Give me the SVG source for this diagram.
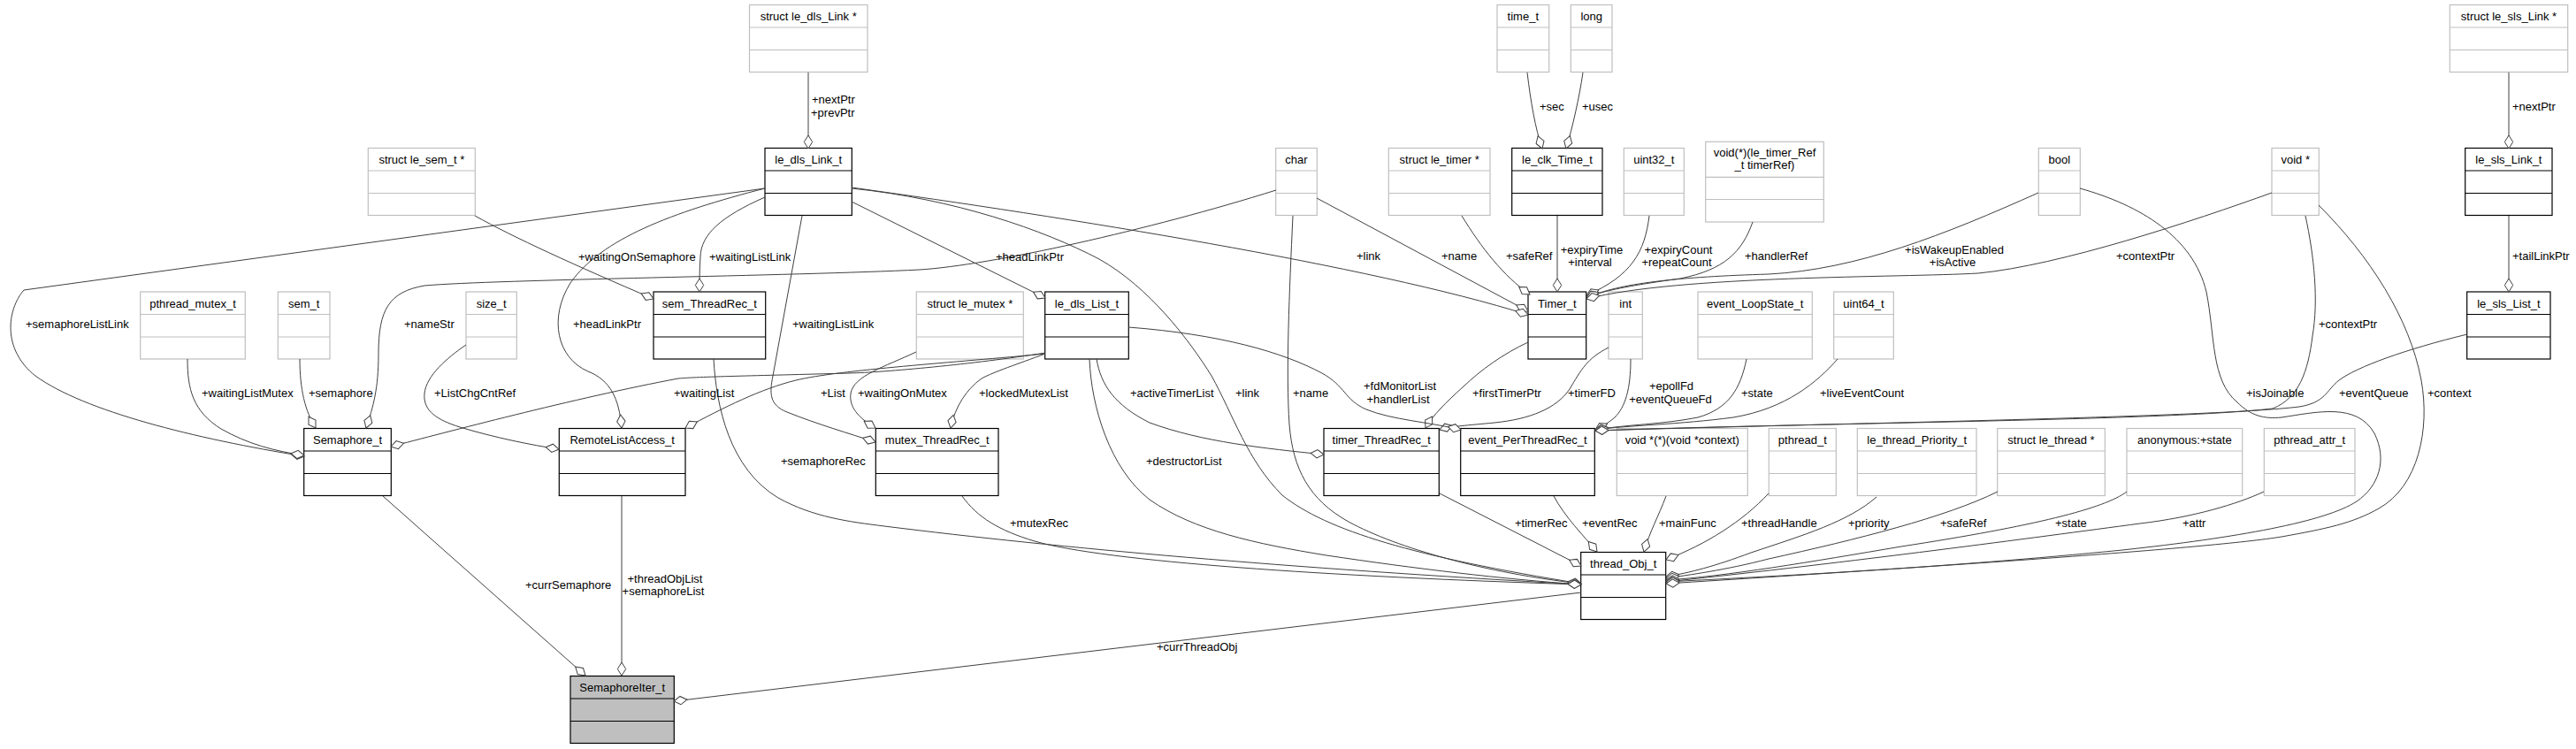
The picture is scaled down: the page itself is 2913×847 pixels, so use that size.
<svg xmlns="http://www.w3.org/2000/svg" width="2913" height="847" viewBox="0 0 2913 847">
<defs>
<style>
text{font-family:"Liberation Sans",Arial,sans-serif;font-size:13px;fill:#000}
.nd text{text-anchor:middle}
.nd rect{fill:#fff;stroke:#000;stroke-width:1.2}
.nd path{fill:none;stroke:#000;stroke-width:1.2}
.gr rect,.gr path{stroke:#bfbfbf}
.sel rect{fill:#bfbfbf}
#edges path{fill:none;stroke:#404040;stroke-width:1;marker-end:url(#dia)}
.m{text-anchor:middle}
</style>
<marker id="dia" markerUnits="userSpaceOnUse" markerWidth="18" markerHeight="12" viewBox="-1 -6 17 12" refX="15" refY="0" orient="auto">
<path d="M0,0 L7.5,-4.7 L15,0 L7.5,4.7 Z" fill="#fff" stroke="#404040" stroke-width="1"/>
</marker>
</defs>
<rect width="2913" height="847" fill="#fff"/>

<!-- Row 1 -->
<g id="n_struct_le_dls_Link" class="nd gr"><rect x="847.5" y="5.5" width="133.5" height="76"/><path d="M847.5,31H981M847.5,56.5H981"/><text x="914.2" y="23">struct le_dls_Link *</text></g>
<g id="n_time_t" class="nd gr"><rect x="1693" y="5.5" width="58.7" height="76"/><path d="M1693,31H1751.7M1693,56.5H1751.7"/><text x="1722.3" y="23">time_t</text></g>
<g id="n_long" class="nd gr"><rect x="1776.3" y="5.5" width="46.7" height="76"/><path d="M1776.3,31H1823M1776.3,56.5H1823"/><text x="1799.7" y="23">long</text></g>
<g id="n_struct_le_sls_Link" class="nd gr"><rect x="2770.3" y="5.5" width="133.4" height="76"/><path d="M2770.3,31H2903.7M2770.3,56.5H2903.7"/><text x="2837" y="23">struct le_sls_Link *</text></g>

<!-- Row 2 -->
<g id="n_struct_le_sem_t" class="nd gr"><rect x="416.3" y="167.5" width="121" height="76"/><path d="M416.3,193H537.3M416.3,218.5H537.3"/><text x="476.8" y="185">struct le_sem_t *</text></g>
<g id="n_le_dls_Link_t" class="nd"><rect x="865" y="167.5" width="98.3" height="76"/><path d="M865,193H963.3M865,218.5H963.3"/><text x="914.2" y="185">le_dls_Link_t</text></g>
<g id="n_char" class="nd gr"><rect x="1442.7" y="167.5" width="46.6" height="76"/><path d="M1442.7,193H1489.3M1442.7,218.5H1489.3"/><text x="1466" y="185">char</text></g>
<g id="n_struct_le_timer" class="nd gr"><rect x="1570.3" y="167.5" width="114.7" height="76"/><path d="M1570.3,193H1685M1570.3,218.5H1685"/><text x="1627.7" y="185">struct le_timer *</text></g>
<g id="n_le_clk_Time_t" class="nd"><rect x="1709.7" y="167.5" width="102.3" height="76"/><path d="M1709.7,193H1812M1709.7,218.5H1812"/><text x="1760.9" y="185">le_clk_Time_t</text></g>
<g id="n_uint32_t" class="nd gr"><rect x="1836.3" y="167.5" width="68" height="76"/><path d="M1836.3,193H1904.3M1836.3,218.5H1904.3"/><text x="1870.3" y="185">uint32_t</text></g>
<g id="n_handler_fn" class="nd gr"><rect x="1928.7" y="160.3" width="133.6" height="90.7"/><path d="M1928.7,200.3H2062.3M1928.7,225.5H2062.3"/><text x="1995.5" y="177">void(*)(le_timer_Ref</text><text x="1995.5" y="191">_t timerRef)</text></g>
<g id="n_bool" class="nd gr"><rect x="2305.3" y="167.5" width="47" height="76"/><path d="M2305.3,193H2352.3M2305.3,218.5H2352.3"/><text x="2328.8" y="185">bool</text></g>
<g id="n_void_ptr" class="nd gr"><rect x="2569" y="167.5" width="53.3" height="76"/><path d="M2569,193H2622.3M2569,218.5H2622.3"/><text x="2595.7" y="185">void *</text></g>
<g id="n_le_sls_Link_t" class="nd"><rect x="2787.7" y="167.5" width="98.3" height="76"/><path d="M2787.7,193H2886M2787.7,218.5H2886"/><text x="2836.9" y="185">le_sls_Link_t</text></g>

<!-- Row 3 -->
<g id="n_pthread_mutex_t" class="nd gr"><rect x="158.7" y="330" width="118.6" height="76"/><path d="M158.7,355.5H277.3M158.7,381H277.3"/><text x="218" y="347.5">pthread_mutex_t</text></g>
<g id="n_sem_t" class="nd gr"><rect x="314.3" y="330" width="58.7" height="76"/><path d="M314.3,355.5H373M314.3,381H373"/><text x="343.7" y="347.5">sem_t</text></g>
<g id="n_size_t" class="nd gr"><rect x="527" y="330" width="57.3" height="76"/><path d="M527,355.5H584.3M527,381H584.3"/><text x="555.7" y="347.5">size_t</text></g>
<g id="n_sem_ThreadRec_t" class="nd"><rect x="739" y="330" width="126.7" height="76"/><path d="M739,355.5H865.7M739,381H865.7"/><text x="802.3" y="347.5">sem_ThreadRec_t</text></g>
<g id="n_struct_le_mutex" class="nd gr"><rect x="1036.3" y="330" width="121" height="76"/><path d="M1036.3,355.5H1157.3M1036.3,381H1157.3"/><text x="1096.8" y="347.5">struct le_mutex *</text></g>
<g id="n_le_dls_List_t" class="nd"><rect x="1181.7" y="330" width="94.6" height="76"/><path d="M1181.7,355.5H1276.3M1181.7,381H1276.3"/><text x="1229" y="347.5">le_dls_List_t</text></g>
<g id="n_Timer_t" class="nd"><rect x="1728" y="330" width="65.7" height="76"/><path d="M1728,355.5H1793.7M1728,381H1793.7"/><text x="1760.9" y="347.5">Timer_t</text></g>
<g id="n_int" class="nd gr"><rect x="1819" y="330" width="38.3" height="76"/><path d="M1819,355.5H1857.3M1819,381H1857.3"/><text x="1838.2" y="347.5">int</text></g>
<g id="n_event_LoopState_t" class="nd gr"><rect x="1920" y="330" width="129.3" height="76"/><path d="M1920,355.5H2049.3M1920,381H2049.3"/><text x="1984.7" y="347.5">event_LoopState_t</text></g>
<g id="n_uint64_t" class="nd gr"><rect x="2073.7" y="330" width="67.6" height="76"/><path d="M2073.7,355.5H2141.3M2073.7,381H2141.3"/><text x="2107.5" y="347.5">uint64_t</text></g>
<g id="n_le_sls_List_t" class="nd"><rect x="2789.7" y="330" width="94.3" height="76"/><path d="M2789.7,355.5H2884M2789.7,381H2884"/><text x="2836.9" y="347.5">le_sls_List_t</text></g>

<!-- Row 4 -->
<g id="n_Semaphore_t" class="nd"><rect x="343.7" y="484.5" width="98.6" height="76"/><path d="M343.7,510H442.3M343.7,535.5H442.3"/><text x="393" y="502">Semaphore_t</text></g>
<g id="n_RemoteListAccess_t" class="nd"><rect x="632.3" y="484.5" width="142.7" height="76"/><path d="M632.3,510H775M632.3,535.5H775"/><text x="703.7" y="502">RemoteListAccess_t</text></g>
<g id="n_mutex_ThreadRec_t" class="nd"><rect x="990.3" y="484.5" width="138.7" height="76"/><path d="M990.3,510H1129M990.3,535.5H1129"/><text x="1059.7" y="502">mutex_ThreadRec_t</text></g>
<g id="n_timer_ThreadRec_t" class="nd"><rect x="1497" y="484.5" width="130.3" height="76"/><path d="M1497,510H1627.3M1497,535.5H1627.3"/><text x="1562.2" y="502">timer_ThreadRec_t</text></g>
<g id="n_event_PerThreadRec_t" class="nd"><rect x="1651.7" y="484.5" width="151.6" height="76"/><path d="M1651.7,510H1803.3M1651.7,535.5H1803.3"/><text x="1727.5" y="502">event_PerThreadRec_t</text></g>
<g id="n_main_fn" class="nd gr"><rect x="1828.3" y="484.5" width="148" height="76"/><path d="M1828.3,510H1976.3M1828.3,535.5H1976.3"/><text x="1902.3" y="502">void *(*)(void *context)</text></g>
<g id="n_pthread_t" class="nd gr"><rect x="2000.3" y="484.5" width="76" height="76"/><path d="M2000.3,510H2076.3M2000.3,535.5H2076.3"/><text x="2038.3" y="502">pthread_t</text></g>
<g id="n_le_thread_Priority_t" class="nd gr"><rect x="2100.3" y="484.5" width="134.7" height="76"/><path d="M2100.3,510H2235M2100.3,535.5H2235"/><text x="2167.7" y="502">le_thread_Priority_t</text></g>
<g id="n_struct_le_thread" class="nd gr"><rect x="2258.7" y="484.5" width="121.6" height="76"/><path d="M2258.7,510H2380.3M2258.7,535.5H2380.3"/><text x="2319.5" y="502">struct le_thread *</text></g>
<g id="n_anonymous_state" class="nd gr"><rect x="2405" y="484.5" width="130.7" height="76"/><path d="M2405,510H2535.7M2405,535.5H2535.7"/><text x="2470.4" y="502">anonymous:+state</text></g>
<g id="n_pthread_attr_t" class="nd gr"><rect x="2560.3" y="484.5" width="102.7" height="76"/><path d="M2560.3,510H2663M2560.3,535.5H2663"/><text x="2611.7" y="502">pthread_attr_t</text></g>

<g id="n_thread_Obj_t" class="nd"><rect x="1787.7" y="624.5" width="96" height="76"/><path d="M1787.7,650H1883.7M1787.7,675.5H1883.7"/><text x="1835.7" y="642">thread_Obj_t</text></g>
<g id="n_SemaphoreIter_t" class="nd sel"><rect x="645" y="764.5" width="117.3" height="76"/><path d="M645,790H762.3M645,815.5H762.3"/><text x="703.7" y="782">SemaphoreIter_t</text></g>

<g id="edges">
<path d="M914,82 L914,168"/>
<path d="M1727,82 C1731,115 1736,145 1744,168"/>
<path d="M1790,82 C1786,110 1778,145 1771,168"/>
<path d="M2837,82 L2837,168"/>
<path d="M2837,244 L2837,330"/>
<path d="M1761,244 L1761,330"/>
<path d="M1653,244 C1675,280 1700,312 1730,333"/>
<path d="M1489,224 L1728,352"/>
<path d="M963,212 C1200,245 1550,300 1728,356"/>
<path d="M1865,244 C1860,285 1845,312 1794,334"/>
<path d="M1982,251 C1970,285 1950,305 1900,315 C1850,322 1820,327 1794,336"/>
<path d="M2305,218 C2200,265 2100,305 2000,310 C1900,313 1830,320 1794,337"/>
<path d="M2569,218 C2480,250 2330,300 2237,309 C2150,314 1900,311 1794,338"/>
<path d="M865,213 L27,328 C8,350 2,395 40,425 C95,465 220,496 344,516"/>
<path d="M212,406 C212,440 218,465 250,485 C280,502 310,510 344,515"/>
<path d="M339,406 C339,440 345,465 357,484"/>
<path d="M1443,215 C1300,260 1120,300 1040,305 C900,312 560,316 480,323 C440,330 428,350 428,400 C428,440 422,460 414,484"/>
<path d="M1182,399 C1100,412 1000,421 960,422 C850,425 790,426 767,428 C650,450 500,490 442,505"/>
<path d="M537,244 C580,268 650,300 739,338"/>
<path d="M865,223 C815,245 793,265 792,290 C791,305 791,318 791,330"/>
<path d="M963,228 L1182,337"/>
<path d="M865,213 C760,240 680,270 645,320 C620,360 630,405 665,420 C690,430 700,450 703,484"/>
<path d="M527,390 C505,405 482,425 480,445 C478,465 495,475 520,483 C560,495 600,503 632,508"/>
<path d="M1182,400 C1080,410 950,418 900,430 C860,440 820,460 775,484"/>
<path d="M1036,398 C1000,415 965,425 962,445 C960,460 970,472 990,484"/>
<path d="M907,244 L874,425 C870,445 870,458 890,466 C925,480 960,490 990,500"/>
<path d="M1182,400 C1150,412 1125,420 1110,428 C1093,440 1080,460 1075,484"/>
<path d="M1240,406 C1245,435 1260,458 1300,478 C1360,500 1430,507 1497,514"/>
<path d="M1728,387 C1700,400 1675,418 1655,437 C1635,455 1620,470 1612,484"/>
<path d="M1819,393 C1795,405 1788,418 1775,440 C1760,462 1730,474 1690,478 C1660,481 1640,482 1628,486"/>
<path d="M1276,370 C1380,378 1450,398 1495,422 C1522,437 1520,452 1545,463 C1575,475 1615,477 1652,486"/>
<path d="M1844,406 C1844,440 1838,460 1826,472 C1818,479 1810,483 1804,486"/>
<path d="M1975,406 C1968,440 1955,462 1920,472 C1880,480 1840,480 1804,486"/>
<path d="M2078,406 C2055,432 2020,462 1960,472 C1900,480 1840,481 1804,486"/>
<path d="M2790,378 C2720,395 2665,415 2645,430 C2630,442 2630,455 2600,460 C2500,472 2100,478 1804,487"/>
<path d="M2607,244 C2617,290 2622,340 2615,380 C2610,420 2600,450 2570,462 C2450,476 2050,478 1804,487"/>
<path d="M1232,406 C1234,460 1255,530 1300,565 C1350,600 1420,615 1500,628 C1600,643 1700,655 1788,661"/>
<path d="M963,213 C1080,225 1180,260 1243,293 C1300,325 1345,385 1370,425 C1395,470 1410,520 1450,560 C1500,600 1600,630 1788,660"/>
<path d="M1462,244 C1458,330 1454,420 1458,480 C1462,530 1480,565 1525,590 C1580,620 1680,648 1788,660"/>
<path d="M807,406 C810,460 825,530 880,563 C920,585 960,590 1000,595 C1200,620 1450,642 1788,661"/>
<path d="M1088,561 C1105,585 1130,600 1170,612 C1250,635 1500,652 1788,661"/>
<path d="M1628,558 L1788,640"/>
<path d="M1757,561 C1770,585 1790,605 1806,624"/>
<path d="M1884,561 C1875,585 1866,600 1859,624"/>
<path d="M2000,558 C1970,590 1930,615 1884,633"/>
<path d="M2122,562 C2090,590 2040,605 1980,625 C1940,640 1910,648 1884,652"/>
<path d="M2259,556 C2200,585 2100,610 2000,632 C1950,645 1910,650 1884,654"/>
<path d="M2405,556 C2380,575 2300,595 2150,618 C2050,635 1950,652 1884,656"/>
<path d="M2560,556 C2530,570 2480,585 2420,592 C2300,608 2100,635 1884,658"/>
<path d="M2352,213 C2420,232 2480,268 2495,330 C2505,380 2500,430 2530,455 C2545,470 2560,474 2580,472 C2620,466 2665,455 2685,490 C2700,520 2690,550 2665,567 C2630,590 2530,608 2400,622 C2200,642 2000,652 1884,658"/>
<path d="M2622,232 C2680,290 2725,360 2738,430 C2748,485 2735,550 2690,575 C2660,592 2630,598 2580,607 C2500,620 2200,640 1884,660"/>
<path d="M433,561 L662,764"/>
<path d="M703,561 L703,764"/>
<path d="M1788,670 L762,793"/>

<text x="918" y="117">+nextPtr</text><text x="917" y="132">+prevPtr</text>
<text x="1741" y="125">+sec</text>
<text x="1789" y="125">+usec</text>
<text x="2841" y="125">+nextPtr</text>
<text x="2841" y="294">+tailLinkPtr</text>
<text class="m" x="1800" y="287">+expiryTime</text><text class="m" x="1798" y="301">+interval</text>
<text x="1703" y="294">+safeRef</text>
<text x="1630" y="294">+name</text>
<text x="1534" y="294">+link</text>
<text class="m" x="1898" y="287">+expiryCount</text><text class="m" x="1896" y="301">+repeatCount</text>
<text x="1973" y="294">+handlerRef</text>
<text class="m" x="2210" y="287">+isWakeupEnabled</text><text class="m" x="2208" y="301">+isActive</text>
<text x="2393" y="294">+contextPtr</text>
<text x="29" y="371">+semaphoreListLink</text>
<text x="228" y="449">+waitingListMutex</text>
<text x="349" y="449">+semaphore</text>
<text x="457" y="371">+nameStr</text>
<text x="762" y="449">+waitingList</text>
<text x="654" y="294.5">+waitingOnSemaphore</text>
<text x="802" y="294.5">+waitingListLink</text>
<text x="1126" y="294.5">+headLinkPtr</text>
<text x="648" y="371">+headLinkPtr</text>
<text x="491" y="449">+ListChgCntRef</text>
<text x="928" y="449">+List</text>
<text x="970" y="449">+waitingOnMutex</text>
<text x="896" y="371">+waitingListLink</text>
<text x="1107" y="449">+lockedMutexList</text>
<text x="1278" y="449">+activeTimerList</text>
<text x="1665" y="449">+firstTimerPtr</text>
<text x="1773" y="449">+timerFD</text>
<text class="m" x="1583" y="441">+fdMonitorList</text><text class="m" x="1581" y="456">+handlerList</text>
<text class="m" x="1890" y="441">+epollFd</text><text class="m" x="1889" y="456">+eventQueueFd</text>
<text x="1969" y="449">+state</text>
<text x="2058" y="449">+liveEventCount</text>
<text x="2645" y="449">+eventQueue</text>
<text x="2622" y="371">+contextPtr</text>
<text x="1296" y="526">+destructorList</text>
<text x="1397" y="449">+link</text>
<text x="1462" y="449">+name</text>
<text x="883" y="526">+semaphoreRec</text>
<text x="1142" y="596">+mutexRec</text>
<text x="1713" y="596">+timerRec</text>
<text x="1789" y="596">+eventRec</text>
<text x="1876" y="596">+mainFunc</text>
<text x="1969" y="596">+threadHandle</text>
<text x="2090" y="596">+priority</text>
<text x="2194" y="596">+safeRef</text>
<text x="2324" y="596">+state</text>
<text x="2468" y="596">+attr</text>
<text x="2540" y="449">+isJoinable</text>
<text x="2745" y="449">+context</text>
<text x="594" y="666">+currSemaphore</text>
<text class="m" x="752" y="659">+threadObjList</text><text class="m" x="750" y="673">+semaphoreList</text>
<text x="1308" y="736">+currThreadObj</text>
</g>
</svg>
